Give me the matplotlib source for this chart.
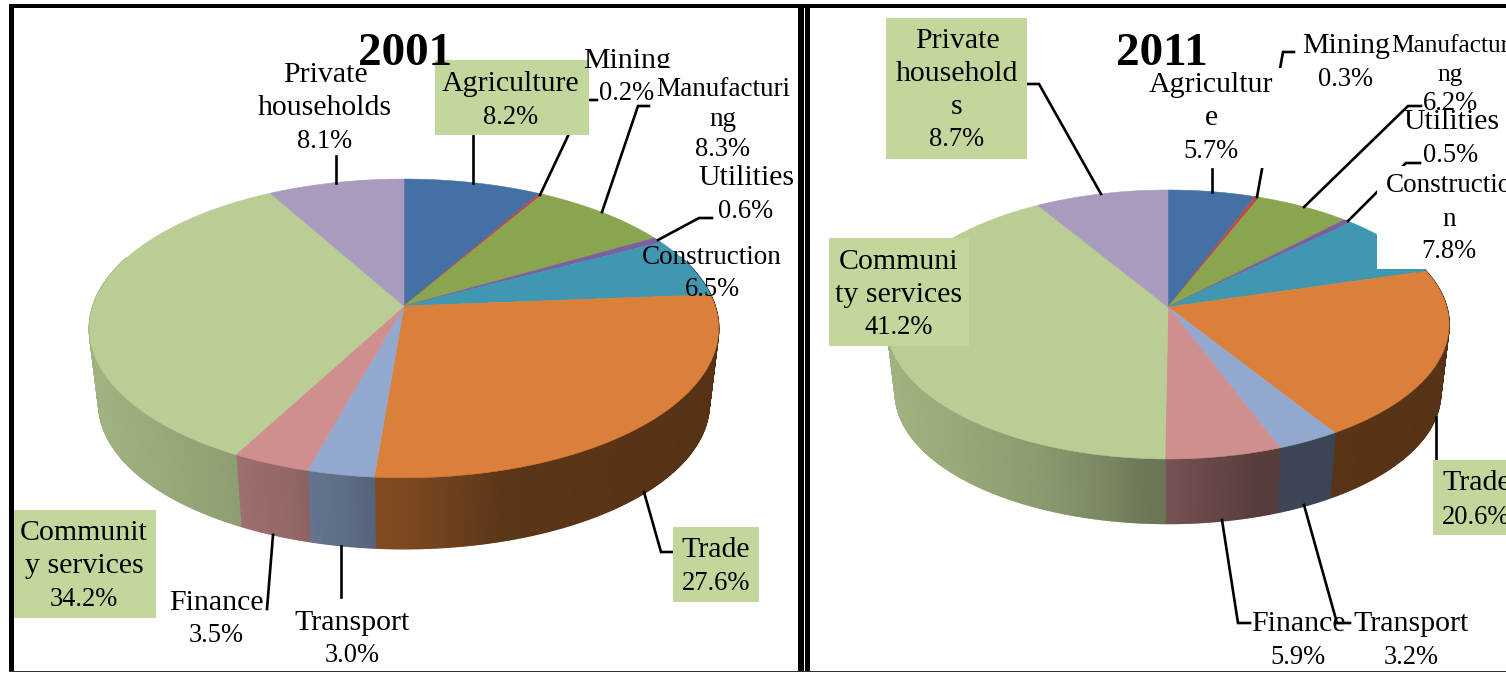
import numpy as np
import matplotlib
matplotlib.use('Agg')
import matplotlib.pyplot as plt
from matplotlib.patches import Polygon, Rectangle
from matplotlib.collections import PolyCollection

categories = ['Agriculture', 'Mining', 'Manufacturing', 'Utilities', 'Construction',
              'Trade', 'Transport', 'Finance', 'Community services', 'Private households']
values_2001 = [8.2, 0.2, 8.3, 0.6, 6.5, 27.6, 3.0, 3.5, 34.2, 8.1]
values_2011 = [5.7, 0.3, 6.2, 0.5, 7.8, 20.6, 3.2, 5.9, 41.2, 8.7]
names_2001 = ['Agriculture', 'Mining', 'Manufacturi\nng', 'Utilities', 'Construction',
              'Trade', 'Transport', 'Finance', 'Communit\ny services', 'Private\nhouseholds']
names_2011 = ['Agricultur\ne', 'Mining', 'Manufactur\nng', 'Utilities', 'Constructio\nn',
              'Trade', 'Transport', 'Finance', 'Communi\nty services', 'Private\nhousehold\ns']

colors = ['#4470A5', '#BE4B48', '#89A54E', '#7D5FA0', '#3F97B0',
          '#DB803A', '#93A8CF', '#CF8F8F', '#B9CD94', '#A99BBD']
box_color = '#C3D69B'

# side shading against horizontal distance from the pie centre (share of rx)
shade_x = [-1.0, -0.54, -0.41, -0.2, -0.1, 0.0, 0.33, 1.0]
shade_f = [0.87, 0.77, 0.73, 0.65, 0.59, 0.57, 0.42, 0.39]

W, H = 1506, 673
fig = plt.figure(figsize=(W / 100, H / 100), dpi=100)
ax = fig.add_axes([0, 0, 1, 1])
ax.set_xlim(0, W)
ax.set_ylim(H, 0)
ax.axis('off')
plt.rcParams['font.family'] = ['Liberation Serif', 'DejaVu Serif']


def project(a, geo):
    # a = clockwise angle from the top, circle seen in perspective
    cx, cy, rx, ry, k = geo
    u, v = np.sin(a), np.cos(a)
    return cx + rx * u / (1 + k * v), cy - ry * v / (1 + k * v)


def draw_pie(values, geo, drop):
    cx, cy, rx, ry, k = geo
    total = sum(values)
    edges = np.cumsum([0] + list(values)) / total * 2 * np.pi
    # sides first
    for i, c in enumerate(colors):
        n = max(int((edges[i + 1] - edges[i]) * 120), 2)
        aa = np.linspace(edges[i], edges[i + 1], n + 1)
        polys, cols = [], []
        base = np.array(matplotlib.colors.to_rgb(c))
        for a0, a1 in zip(aa[:-1], aa[1:]):
            if np.cos((a0 + a1) / 2) > 0.35:
                continue
            x0, y0 = project(a0, geo)
            x1, y1 = project(a1, geo)
            xb0, yb0 = cx + 0.97 * (x0 - cx), cy + 0.97 * (y0 - cy) + drop
            xb1, yb1 = cx + 0.97 * (x1 - cx), cy + 0.97 * (y1 - cy) + drop
            polys.append([(x0, y0), (x1, y1), (xb1, yb1), (xb0, yb0)])
            cols.append(base * np.interp((x0 + x1) / 2 - cx, np.array(shade_x) * rx, shade_f))
        if polys:
            ax.add_collection(PolyCollection(polys, facecolors=cols, edgecolors=cols, linewidths=1.2, zorder=2))
    # top face
    for i, c in enumerate(colors):
        n = max(int((edges[i + 1] - edges[i]) * 120), 2)
        xs, ys = project(np.linspace(edges[i], edges[i + 1], n + 1), geo)
        pts = [(cx, cy)] + list(zip(xs, ys))
        ax.add_patch(Polygon(pts, closed=True, facecolor=c, edgecolor=c, linewidth=0.4, zorder=3))


def leader(pts):
    ax.plot(*zip(*pts), color='black', lw=1.9, solid_joinstyle='miter', zorder=4)


def box(x0, y0, x1, y1, color=box_color, zorder=5):
    ax.add_patch(Rectangle((x0, y0), x1 - x0, y1 - y0, facecolor=color, edgecolor='none', zorder=zorder))


def label(name, value, x, y, step=33, size=21.5, ha='center', zorder=7):
    lines = name.split('\n')
    for j, line in enumerate(lines):
        ax.text(x, y + 2 + j * step, line, ha=ha, va='center', fontsize=size, color='black', zorder=zorder)
    # the percent figures run narrower than the names
    ax.text(x, y + 2 + len(lines) * step, f'{value:.1f}%', ha=ha, va='center', fontsize=19.1,
            color='black', zorder=zorder + 0.5)


draw_pie(values_2001, (404, 306, 311, 146, 0.15), 76)
draw_pie(values_2011, (1168, 307, 278.6, 132.2, 0.13), 69)

# frames
box(9, 4, 1510, 7.5, 'black', 9)
box(9, 4, 14, 672, 'black', 9)
box(798.5, 4, 804, 672, 'black', 9)
box(805, 4, 810, 672, 'black', 9)
box(9, 670.5, 1510, 672, '#333333', 9)

# 2001 leaders
leader([(336, 156), (336, 183)])
leader([(473, 130), (473, 183)])
leader([(540, 195), (585, 100), (597, 100)])
leader([(602, 212), (638, 106), (649, 106)])
leader([(658, 240), (699, 218), (712, 218)])
leader([(273, 535), (267, 609)])
leader([(341, 546), (341, 597)])
leader([(644, 492), (661, 552), (673, 552)])

# 2011 leaders
leader([(1027, 84), (1039, 84), (1101, 194)])
leader([(1212, 169), (1212, 192)])
leader([(1257, 197), (1283, 52), (1294, 52)])
leader([(1304, 207), (1408, 106), (1421, 106)])
leader([(1348, 221), (1406, 163), (1420, 163)])
leader([(1222, 520), (1238, 623), (1250, 623)])
leader([(1304, 505), (1337, 623), (1350, 623)])
leader([(1436, 417), (1436, 460)])

# label backgrounds
box(435, 60, 589, 135)
box(14, 510, 156, 618)
box(673, 527, 759, 602)
box(886, 18, 1027, 159)
box(829, 238, 969, 346)
box(1433, 460, 1510, 535)
box(1147, 68, 1283, 168, 'white')
box(1377, 166, 1510, 269, 'white')

# 2001 labels
label(names_2001[9], values_2001[9], 325, 73)
label(names_2001[0], values_2001[0], 511, 82)
label(names_2001[1], values_2001[1], 627, 59)
box(590, 68, 672, 76, 'white', 7.2)
label(names_2001[2], values_2001[2], 723, 88, step=30, size=19.5)
label(names_2001[3], values_2001[3], 746, 176, step=34)
label(names_2001[4], values_2001[4], 712, 256, step=32, size=19.5)
label(names_2001[5], values_2001[5], 716, 548)
label(names_2001[6], values_2001[6], 352, 621)
label(names_2001[7], values_2001[7], 216, 601)
label(names_2001[8], values_2001[8], 84, 531)

# 2011 labels
label(names_2011[9], values_2011[9], 957, 39)
label(names_2011[0], values_2011[0], 1211, 83)
label(names_2011[1], values_2011[1], 1346, 44, step=34)
label(names_2011[2], values_2011[2], 1450, 44, step=29, size=18.3)
label(names_2011[3], values_2011[3], 1451, 120)
label(names_2011[4], values_2011[4], 1449, 184, step=33, size=19.5)
label(names_2011[5], values_2011[5], 1442, 481, step=34, ha='left')
label(names_2011[6], values_2011[6], 1411, 622)
label(names_2011[7], values_2011[7], 1298, 622)
label(names_2011[8], values_2011[8], 899, 260)

ax.text(405, 54, '2001', ha='center', va='center', fontsize=34, fontweight='bold', zorder=8)
ax.text(1162, 54, '2011', ha='center', va='center', fontsize=34, fontweight='bold', zorder=8)

fig.savefig('out.png', dpi=100)
